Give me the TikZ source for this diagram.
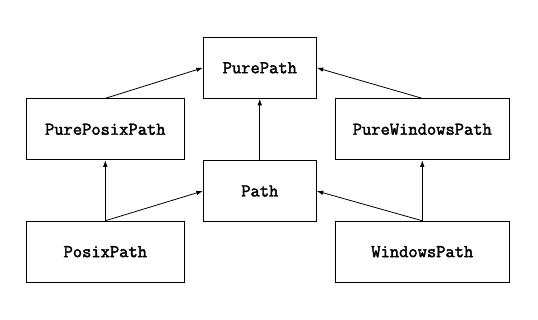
\documentclass[tikz,border=0pt]{standalone}
\usepackage{fontspec}
\newfontfamily\codefont[FakeBold=2.2]{Latin Modern Mono}
\usetikzlibrary{arrows.meta}
\tikzset{
  cls/.style={draw=black, line width=0.9pt, minimum height=61pt, inner sep=0pt,
    font=\codefont\fontsize{18}{20}\selectfont},
  inh/.style={line width=0.8pt, -{Latex[length=6.5pt,width=4.5pt]}}
}
\begin{document}
\begin{tikzpicture}[x=1pt,y=1pt]
\useasboundingbox (0,0) rectangle (538,-319);
\node[cls, minimum width=113pt] (pp) at (259.8,-67.8) {PurePath};
\node[cls, minimum width=158pt] (ppx) at (105.3,-129.3) {PurePosixPath};
\node[cls, minimum width=174pt] (pw) at (422.3,-129.3) {PureWindowsPath};
\node[cls, minimum width=113pt] (p) at (259.8,-191) {Path};
\node[cls, minimum width=158pt] (px) at (105.3,-251.7) {PosixPath};
\node[cls, minimum width=174pt] (w) at (422.3,-251.7) {WindowsPath};
\draw[inh] (ppx.north) -- (pp.west);
\draw[inh] (pw.north) -- (pp.east);
\draw[inh] (p.north) -- (pp.south);
\draw[inh] (px.north) -- (ppx.south);
\draw[inh] (px.north) -- (p.west);
\draw[inh] (w.north) -- (pw.south);
\draw[inh] (w.north) -- (p.east);
\end{tikzpicture}
\end{document}
